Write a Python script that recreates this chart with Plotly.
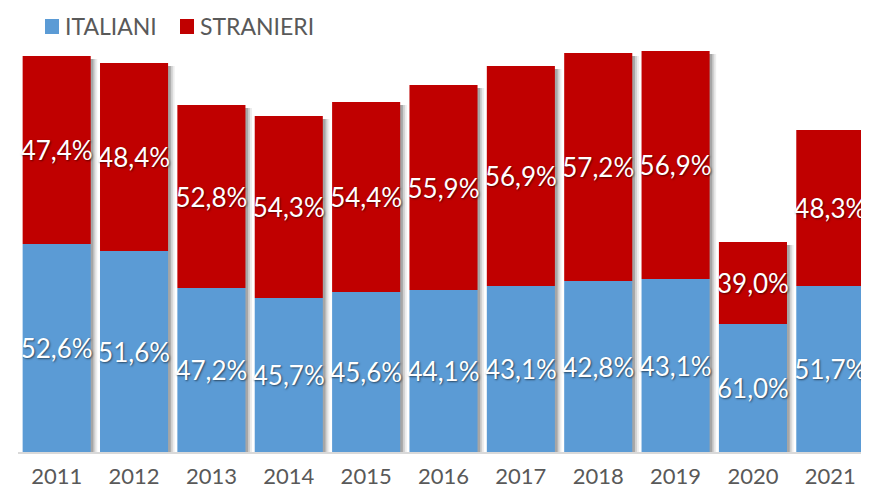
import plotly.graph_objects as go

anni = ["2011", "2012", "2013", "2014", "2015", "2016", "2017", "2018", "2019", "2020", "2021"]
italiani = [208, 201, 164, 154, 160, 162, 166, 171, 173, 128, 166]
stranieri = [188, 188, 183, 182, 190, 205, 220, 228, 228, 82, 156]
pct_italiani = ["52,6%", "51,6%", "47,2%", "45,7%", "45,6%", "44,1%", "43,1%", "42,8%", "43,1%", "61,0%", "51,7%"]
pct_stranieri = ["47,4%", "48,4%", "52,8%", "54,3%", "54,4%", "55,9%", "56,9%", "57,2%", "56,9%", "39,0%", "48,3%"]

totali = [a + b for a, b in zip(italiani, stranieri)]

FONT = "Lato"
BLUE = "#5B9BD5"
RED = "#C00000"
GREY = "#595959"
W = 0.88
label_font = dict(family=FONT, size=26, color="white", shadow="1px 1px 2px rgba(0,0,0,0.55)")

fig = go.Figure()
# soft drop shadow behind the bars
for dx, alpha in [(0.085, 0.07), (0.06, 0.12), (0.035, 0.2)]:
    fig.add_trace(go.Bar(
        x=anni, y=[t - 3 for t in totali], width=W, offset=-W / 2 + dx,
        marker=dict(color=f"rgba(0,0,0,{alpha})", line=dict(width=0)),
        hoverinfo="skip", showlegend=False,
    ))
fig.add_trace(go.Bar(
    x=anni, y=italiani, name="ITALIANI", width=W, offset=-W / 2,
    marker=dict(color=BLUE, line=dict(width=0)),
    text=pct_italiani, textposition="inside", insidetextanchor="middle", textangle=0,
    constraintext="none", textfont=label_font, hoverinfo="skip",
))
fig.add_trace(go.Bar(
    x=anni, y=stranieri, base=italiani, name="STRANIERI", width=W, offset=-W / 2,
    marker=dict(color=RED, line=dict(width=0)),
    text=pct_stranieri, textposition="inside", insidetextanchor="middle", textangle=0,
    constraintext="none", textfont=label_font, hoverinfo="skip",
))

# legend drawn at the top-left (page has an 8px body offset)
legend_items = [("ITALIANI", BLUE, 37), ("STRANIERI", RED, 172)]
legend_shapes = []
annotations = []
for name, col, x0 in legend_items:
    legend_shapes.append(dict(type="rect", xref="paper", yref="paper",
                              xsizemode="pixel", ysizemode="pixel",
                              xanchor=0, yanchor=1,
                              x0=x0 - 10, x1=x0 + 4, y0=-2, y1=13,
                              fillcolor=col, line=dict(width=0)))
    annotations.append(dict(text=name, xref="paper", yref="paper",
                            x=0, y=1, xanchor="left", yanchor="middle",
                            xshift=x0 + 8, yshift=6, showarrow=False,
                            font=dict(family=FONT, size=23, color=GREY)))

fig.update_layout(
    width=861, height=484,
    barmode="overlay",
    margin=dict(l=10, r=0, t=24, b=40),
    plot_bgcolor="white", paper_bgcolor="white",
    font=dict(family=FONT, color=GREY),
    showlegend=False,
    shapes=legend_shapes,
    annotations=annotations,
    xaxis=dict(showline=True, linecolor="#d9d9d9", linewidth=1.5, ticks="",
               automargin=False, ticklabelstandoff=4, range=[-0.5, len(anni) - 0.5],
               tickfont=dict(family=FONT, size=22, color=GREY)),
    yaxis=dict(visible=False, automargin=False, range=[0, 420], showgrid=False),
)

fig.write_html("out.html")
